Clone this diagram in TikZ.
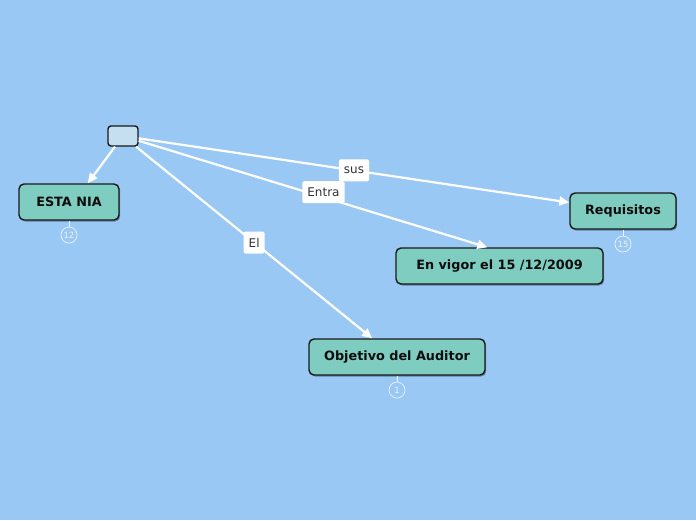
\documentclass[tikz,border=0pt]{standalone}
\usepackage{fontspec}
\setmainfont{DejaVu Sans}
\definecolor{mapblue}{RGB}{154,200,245}
\definecolor{topicgreen}{RGB}{126,205,192}
\definecolor{rootblue}{RGB}{197,222,240}
\usetikzlibrary{arrows.meta,positioning,shadows}

\begin{document}
\begin{tikzpicture}[x=1pt, y=-1pt,
      topic/.style={draw=black!90, line width=1.4pt, rounded corners=5pt,
                    fill=topicgreen, minimum height=36pt, inner xsep=4pt,
                    font=\fontsize{12.8}{15}\selectfont\bfseries, text=black!95,
                    drop shadow={shadow xshift=1.2pt, shadow yshift=-1.5pt,
                                 opacity=0.35, fill=black}},
      root/.style={draw=black!90, line width=1.4pt, rounded corners=3pt,
                   fill=rootblue, minimum width=30pt, minimum height=20pt,
                   inner sep=0pt},
      count/.style={circle, draw=white!80!mapblue, line width=0.7pt,
                    minimum size=16pt, inner sep=0pt, text=white!80!mapblue,
                    font=\fontsize{8.5}{9}\selectfont},
      countline/.style={draw=white!80!mapblue, line width=1pt},
      link/.style={draw=white, line width=2.2pt,
                   -{Triangle[length=10pt, width=9pt]}},
      lbl/.style={fill=white, rounded corners=2pt, text=black!80,
                  font=\fontsize{12}{14}\selectfont,
                  minimum height=22pt, inner xsep=5pt}]
    \useasboundingbox[fill=mapblue] (0,0) rectangle (696,520);
    % central topic
    \node[root] (root) at (123,136) {};
    % main topics
    \node[topic, minimum width=100pt] (nia) at (69,202) {ESTA NIA};
    \node[topic, minimum width=106pt] (req) at (623,211) {Requisitos};
    \node[topic, minimum width=207pt] (env) at (499.5,266) {En vigor el 15 /12/2009};
    \node[topic, minimum width=176pt] (obj) at (397,357) {Objetivo del Auditor};
    % counters
    \node[count, below=6pt of nia] (nia-count) {12};
    \node[count, below=6pt of req] (req-count) {15};
    \node[count, below=6pt of obj] (obj-count) {1};
    \draw[countline] (nia) -- (nia-count);
    \draw[countline] (req) -- (req-count);
    \draw[countline] (obj) -- (obj-count);
    % relations
    \draw[link] (root) -- (nia.45);
    \draw[link] (root) -- (req.171) node[lbl, pos=0.5] {sus};
    \draw[link] (root) -- (env.123) node[lbl, pos=0.53, yshift=5pt] {Entra};
    \draw[link] (root) -- (obj.143) node[lbl, pos=0.5] {El};
\end{tikzpicture}
\end{document}
